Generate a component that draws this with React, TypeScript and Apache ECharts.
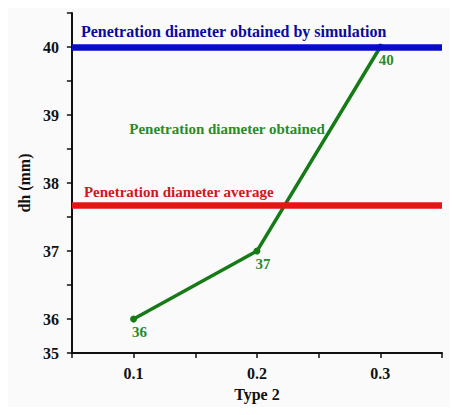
import React, { useEffect, useRef } from "react";
import * as echarts from "echarts";

const xValues = [0.1, 0.2, 0.3];
const dhValues = [36, 37, 40];
const simulationValue = 40;
const averageValue = 37.67;
const xAxisName = "Type 2";
const yAxisName = "dh (mm)";
const simulationLabel = "Penetration diameter obtained by simulation";
const averageLabel = "Penetration diameter average";
const obtainedLabel = "Penetration diameter obtained";
const obtainedLabelAt = [0.255, 38.8];

const FONT = "'Liberation Serif', 'Times New Roman', serif";

export default function App() {
  const ref = useRef<HTMLDivElement>(null);
  useEffect(() => {
    if (!ref.current) return;
    const chart = echarts.init(ref.current, null, { renderer: "svg" });
    chart.setOption({
      animation: false,
      backgroundColor: "#fafafa",
      grid: { left: 58, right: 8, top: 5, bottom: 44 },
      xAxis: {
        type: "value",
        min: 0.05,
        max: 0.35,
        interval: 0.05,
        name: xAxisName,
        nameLocation: "middle",
        nameGap: 32,
        nameTextStyle: { fontFamily: FONT, fontWeight: "bold", fontSize: 16, color: "#111" },
        axisLine: { show: true, lineStyle: { color: "#111", width: 2 } },
        axisTick: { show: true, inside: false, length: 5, lineStyle: { color: "#111", width: 1.5 } },
        splitLine: { show: false },
        axisLabel: {
          margin: 12,
          fontFamily: FONT,
          fontWeight: "bold",
          fontSize: 16,
          color: "#111",
          formatter: (v: number) => {
            const t = v * 10;
            return Math.abs(t - Math.round(t)) < 1e-6 ? v.toFixed(1) : "";
          },
        },
      },
      yAxis: {
        type: "value",
        min: 35.5,
        max: 40.5,
        interval: 0.5,
        name: yAxisName,
        nameLocation: "middle",
        nameGap: 30,
        nameTextStyle: { fontFamily: FONT, fontWeight: "bold", fontSize: 16, color: "#111" },
        axisLine: { show: true, lineStyle: { color: "#111", width: 2 } },
        axisTick: { show: true, inside: false, length: 5, lineStyle: { color: "#111", width: 1.5 } },
        splitLine: { show: false },
        axisLabel: {
          margin: 13,
          fontFamily: FONT,
          fontWeight: "bold",
          fontSize: 16,
          color: "#111",
          formatter: (v: number) => {
            if (Math.abs(v - 35.5) < 1e-6) return "35";
            return Math.abs(v - Math.round(v)) < 1e-6 ? String(Math.round(v)) : "";
          },
        },
      },
      series: [
        {
          type: "line",
          data: xValues.map((x, i) => [x, dhValues[i]]),
          symbol: "circle",
          symbolSize: 7,
          lineStyle: { color: "#167a16", width: 3.5 },
          itemStyle: { color: "#167a16" },
          label: {
            show: true,
            position: "bottom",
            offset: [6, -3],
            fontFamily: FONT,
            fontWeight: "bold",
            fontSize: 15,
            color: "#2a8a2a",
            formatter: (p: any) => String(p.value[1]),
          },
          markLine: {
            silent: true,
            symbol: "none",
            data: [
              {
                yAxis: simulationValue,
                lineStyle: { color: "#0a0acc", width: 6.5, type: "solid" },
                label: {
                  show: true,
                  position: "insideStartTop",
                  formatter: simulationLabel,
                  distance: [9, 8],
                  fontFamily: FONT,
                  fontWeight: "bold",
                  fontSize: 16,
                  color: "#0a0a9e",
                },
              },
              {
                yAxis: averageValue,
                lineStyle: { color: "#e81414", width: 6.5, type: "solid" },
                label: {
                  show: true,
                  position: "insideStartTop",
                  formatter: averageLabel,
                  distance: [12, 6],
                  fontFamily: FONT,
                  fontWeight: "bold",
                  fontSize: 15,
                  color: "#d01818",
                },
              },
            ],
          },
          markPoint: {
            silent: true,
            symbol: "circle",
            symbolSize: 0,
            data: [
              {
                coord: obtainedLabelAt,
                label: {
                  show: true,
                  position: "left",
                  distance: 0,
                  formatter: obtainedLabel,
                  fontFamily: FONT,
                  fontWeight: "bold",
                  fontSize: 15,
                  color: "#2a8a2a",
                },
              },
            ],
          },
          z: 3,
        },
      ],
    });
    return () => chart.dispose();
  }, []);
  return <div ref={ref} style={{ width: 442, height: 399 }} />;
}
